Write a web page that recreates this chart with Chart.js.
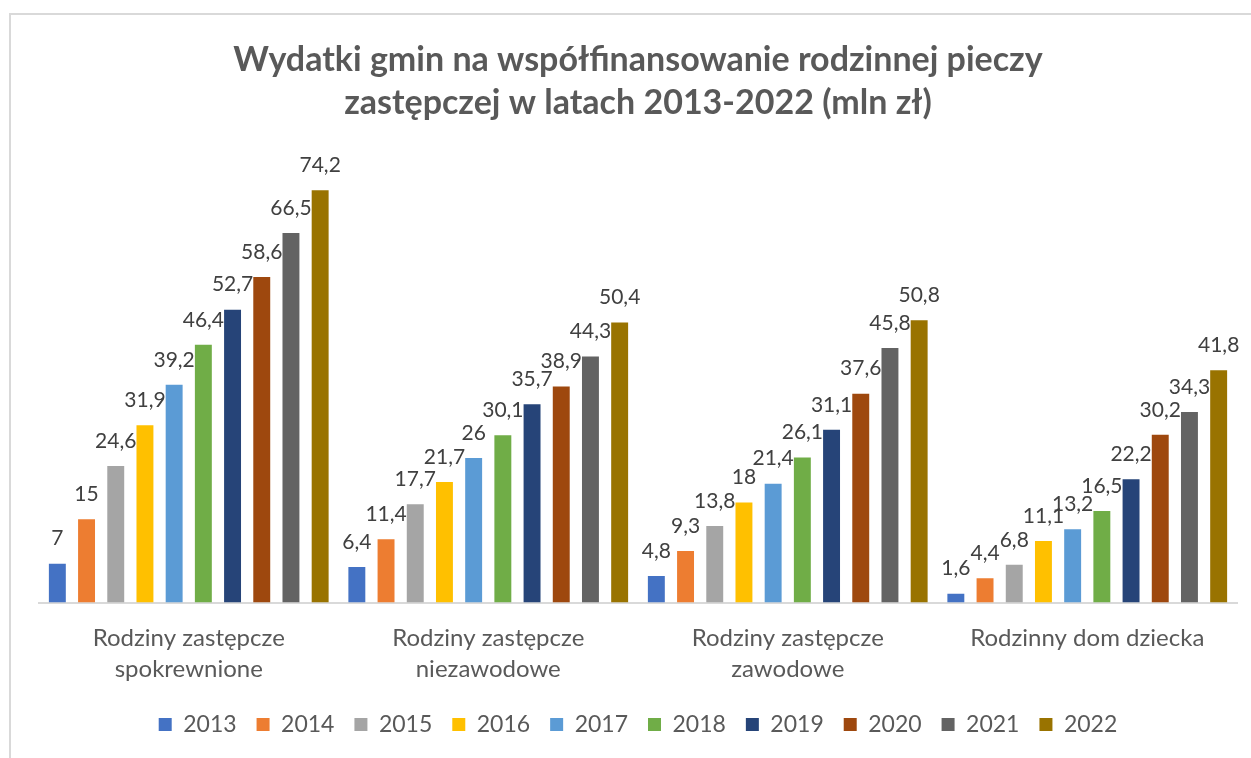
<!DOCTYPE html>
<html>
<head>
<meta charset="utf-8">
<script src="https://cdn.jsdelivr.net/npm/chart.js@4/dist/chart.umd.min.js"></script>
<style>
  html, body { margin: 0; padding: 0; background: #fff; overflow: hidden; }
  #frame {
    position: absolute; left: 9px; top: 13px; right: -10px; bottom: -10px;
    border-left: 2px solid #d9d9d9; border-top: 2px solid #d9d9d9;
  }
  #wrap { position: absolute; left: 0; top: 0; width: 1251px; height: 758px; }
</style>
</head>
<body>
<div id="frame"></div>
<div id="wrap"><canvas id="chart"></canvas></div>
<script>
// categories (two-line labels like in the original)
var categories = [
  ['Rodziny zastępcze', 'spokrewnione'],
  ['Rodziny zastępcze', 'niezawodowe'],
  ['Rodziny zastępcze', 'zawodowe'],
  ['Rodzinny dom dziecka']
];

var years = ['2013', '2014', '2015', '2016', '2017', '2018', '2019', '2020', '2021', '2022'];

// values in mln zł, one array per year
var v2013 = [7, 6.4, 4.8, 1.6];
var v2014 = [15, 11.4, 9.3, 4.4];
var v2015 = [24.6, 17.7, 13.8, 6.8];
var v2016 = [31.9, 21.7, 18, 11.1];
var v2017 = [39.2, 26, 21.4, 13.2];
var v2018 = [46.4, 30.1, 26.1, 16.5];
var v2019 = [52.7, 35.7, 31.1, 22.2];
var v2020 = [58.6, 38.9, 37.6, 30.2];
var v2021 = [66.5, 44.3, 45.8, 34.3];
var v2022 = [74.2, 50.4, 50.8, 41.8];

var values = [v2013, v2014, v2015, v2016, v2017, v2018, v2019, v2020, v2021, v2022];

var colors = ['#4472C4', '#ED7D31', '#A5A5A5', '#FFC000', '#5B9BD5',
              '#70AD47', '#264478', '#9E480E', '#636363', '#997300'];

var FONT = "Lato, 'Open Sans', sans-serif";

var datasets = years.map(function (y, i) {
  return {
    label: y,
    data: values[i],
    backgroundColor: colors[i],
    borderWidth: 0,
    categoryPercentage: 0.975,
    barPercentage: 0.58
  };
});

// value labels above bars (comma as decimal separator)
var valueLabels = {
  id: 'valueLabels',
  afterDatasetsDraw: function (chart) {
    var ctx = chart.ctx;
    ctx.save();
    ctx.font = '21px ' + FONT;
    ctx.fillStyle = '#404040';
    ctx.textAlign = 'center';
    ctx.textBaseline = 'middle';
    chart.data.datasets.forEach(function (ds, i) {
      var meta = chart.getDatasetMeta(i);
      meta.data.forEach(function (bar, j) {
        var txt = String(ds.data[j]).replace('.', ',');
        ctx.fillText(txt, bar.x, bar.y - 25);
      });
    });
    ctx.restore();
  }
};

Chart.defaults.font.family = FONT;

new Chart(document.getElementById('chart'), {
  type: 'bar',
  data: { labels: categories, datasets: datasets },
  options: {
    responsive: true,
    maintainAspectRatio: false,
    devicePixelRatio: 1,
    animation: false,
    layout: { padding: { left: 39, right: 14, top: 0, bottom: 12 } },
    plugins: {
      title: {
        display: true,
        text: ['Wydatki gmin na współfinansowanie rodzinnej pieczy',
               'zastępczej w latach 2013-2022 (mln zł)'],
        color: '#595959',
        font: { size: 34, weight: 'bold', lineHeight: 1.265 },
        padding: { top: 39, bottom: 33 }
      },
      legend: {
        position: 'bottom',
        labels: {
          color: '#595959',
          font: { size: 23 },
          boxWidth: 13,
          boxHeight: 13,
          padding: 20
        }
      },
      tooltip: { enabled: false }
    },
    scales: {
      x: {
        grid: { display: false, drawTicks: false, tickLength: 0 },
        border: { display: true, color: '#d9d9d9', width: 2 },
        ticks: {
          color: '#595959',
          font: { size: 24, lineHeight: 1.3 },
          padding: 20,
          maxRotation: 0,
          autoSkip: false
        },
        afterFit: function (scale) {
          // pull the baseline down closer to the labels
          scale.height -= 12;
        }
      },
      y: {
        display: false,
        min: 0,
        max: 80
      }
    }
  },
  plugins: [valueLabels]
});
</script>
</body>
</html>
